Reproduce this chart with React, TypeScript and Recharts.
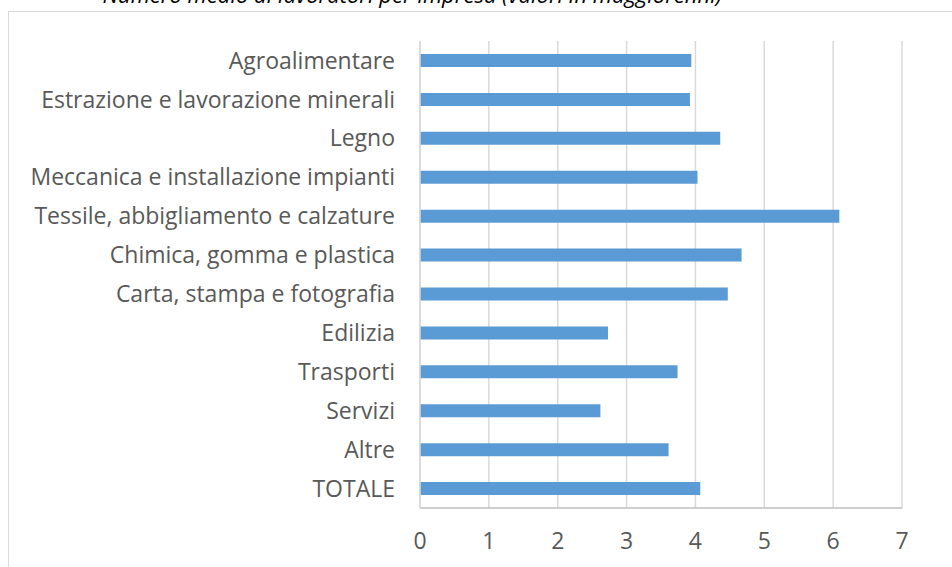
import React from "react";
import { BarChart, Bar, XAxis, YAxis, CartesianGrid } from "recharts";

const categories = [
  "Agroalimentare",
  "Estrazione e lavorazione minerali",
  "Legno",
  "Meccanica e installazione impianti",
  "Tessile, abbigliamento e calzature",
  "Chimica, gomma e plastica",
  "Carta, stampa e fotografia",
  "Edilizia",
  "Trasporti",
  "Servizi",
  "Altre",
  "TOTALE",
];

const values = [3.94, 3.92, 4.36, 4.03, 6.09, 4.67, 4.47, 2.73, 3.74, 2.62, 3.61, 4.07];

const xTicks = [0, 1, 2, 3, 4, 5, 6, 7];

const TITLE = "Numero medio di lavoratori per impresa (valori in maggiorenni)";

const FONT = "'Open Sans', Lato, sans-serif";
const TEXT = "#595959";

export default function App() {
  const data = categories.map((name, i) => ({ name, value: values[i] }));

  return (
    <div
      style={{
        position: "absolute",
        left: 0,
        top: 0,
        width: 952,
        height: 567,
        overflow: "hidden",
        background: "#fff",
        fontFamily: FONT,
      }}
    >
      {/* title sits mostly above the visible area, as in the source */}
      <svg
        width={952}
        height={20}
        style={{ position: "absolute", left: 0, top: 0 }}
      >
        <text
          x={722}
          y={3}
          textAnchor="end"
          fontStyle="italic"
          fontSize={22}
          fill="#000"
          fontFamily={FONT}
        >
          {TITLE}
        </text>
      </svg>
      {/* chart frame, cut off at right and bottom */}
      <div
        style={{
          position: "absolute",
          left: 8,
          top: 11,
          width: 1000,
          height: 600,
          borderLeft: "1.5px solid #d9d9d9",
          borderTop: "1.5px solid #d9d9d9",
        }}
      />
      <div style={{ position: "absolute", left: 0, top: 0 }}>
        <BarChart
          width={952}
          height={567}
          data={data}
          layout="vertical"
          margin={{ top: 41, right: 50, bottom: 19, left: 0 }}
        >
          <CartesianGrid horizontal={false} stroke="#d9d9d9" strokeWidth={1.5} />
          <XAxis
            type="number"
            domain={[0, 7]}
            ticks={xTicks}
            interval={0}
            height={40}
            axisLine={{ stroke: "#bfbfbf", strokeWidth: 1.5 }}
            tickLine={false}
            tickSize={6}
            tickMargin={19}
            tick={{ fill: TEXT, fontSize: 23, fontFamily: FONT }}
          />
          <YAxis
            type="category"
            dataKey="name"
            width={420}
            interval={0}
            axisLine={{ stroke: "#d9d9d9", strokeWidth: 1.5 }}
            tickLine={false}
            tickSize={6}
            tickMargin={19}
            tick={{ fill: TEXT, fontSize: 23, fontFamily: FONT }}
          />
          <Bar
            dataKey="value"
            fill="#5b9bd5"
            barSize={13}
            isAnimationActive={false}
          />
        </BarChart>
      </div>
    </div>
  );
}
